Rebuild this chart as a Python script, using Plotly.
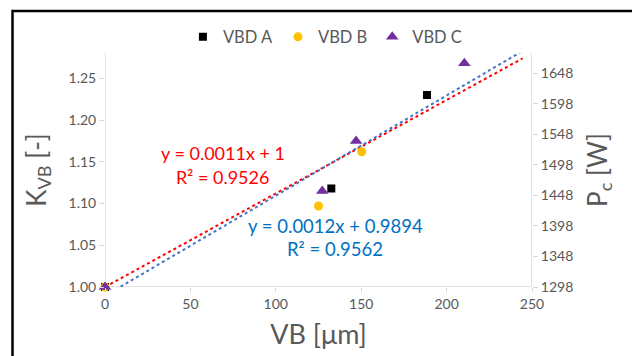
import numpy as np
import plotly.graph_objects as go

# ---- data ----
vbd_a_x = [0, 132.5, 188.5]
vbd_a_y = [1.000, 1.118, 1.230]
vbd_b_x = [0, 125.0, 150.3, 244.5]
vbd_b_y = [1.000, 1.097, 1.162, 1.281]
vbd_c_x = [0, 127.2, 147.0, 210.4]
vbd_c_y = [1.000, 1.115, 1.175, 1.268]

# trendline coefficients (slope, intercept)
trend_red = [0.00112, 1.0]
trend_blue = [0.0012, 0.9894]
trend_red_label = ["y = 0.0011x + 1", "R² = 0.9526"]
trend_blue_label = ["y = 0.0012x + 0.9894", "R² = 0.9562"]

x_ticks = [0, 50, 100, 150, 200, 250]
y_ticks = [1.00, 1.05, 1.10, 1.15, 1.20, 1.25]
y2_ticks = [1298, 1348, 1398, 1448, 1498, 1548, 1598, 1648]

FONT = "Lato"
GREY = "#595959"
AXIS = "#D9D9D9"

all_x = vbd_a_x + vbd_b_x + vbd_c_x
xmin, xmax = min(all_x), max(all_x)
tx = np.linspace(xmin, xmax, 60)

fig = go.Figure()

fig.add_trace(go.Scatter(x=tx, y=trend_red[0] * tx + trend_red[1], mode="lines",
                         line=dict(color="#FF0000", width=2, dash="dot"),
                         showlegend=False, hoverinfo="skip"))
fig.add_trace(go.Scatter(x=tx, y=trend_blue[0] * tx + trend_blue[1], mode="lines",
                         line=dict(color="#4472C4", width=2, dash="dot"),
                         showlegend=False, hoverinfo="skip"))

fig.add_trace(go.Scatter(x=vbd_a_x, y=vbd_a_y, mode="markers", name="VBD A",
                         marker=dict(symbol="square", size=8, color="#000000"),
                         cliponaxis=False))
fig.add_trace(go.Scatter(x=vbd_b_x, y=vbd_b_y, mode="markers", name="VBD B",
                         marker=dict(symbol="circle", size=9, color="#FFC000"),
                         cliponaxis=False))
fig.add_trace(go.Scatter(x=vbd_c_x, y=vbd_c_y, mode="markers", name="VBD C",
                         marker=dict(symbol="triangle-up", size=11, color="#7030A0"),
                         cliponaxis=False))
# secondary axis anchor trace
fig.add_trace(go.Scatter(x=[0], y=[1298], yaxis="y2", mode="markers",
                         marker=dict(size=1, opacity=0), showlegend=False, hoverinfo="skip"))

ann = []
ann.append(dict(x=69, y=1.1605, text=trend_red_label[0], showarrow=False,
                font=dict(family=FONT, size=18, color="#FF0000")))
ann.append(dict(x=69, y=1.1318, text=trend_red_label[1], showarrow=False,
                font=dict(family=FONT, size=18, color="#FF0000")))
ann.append(dict(x=135.2, y=1.073, text=trend_blue_label[0], showarrow=False,
                font=dict(family=FONT, size=18.5, color="#0070C0")))
ann.append(dict(x=134.7, y=1.0455, text=trend_blue_label[1], showarrow=False,
                font=dict(family=FONT, size=18.5, color="#0070C0")))
# cut-off text above the frame
ann.append(dict(xref="paper", yref="paper", x=-0.07, y=1.215, yanchor="bottom",
                text="g p", showarrow=False, font=dict(family=FONT, size=20, color="#000000")))

fig.update_layout(
    width=632, height=356,
    margin=dict(l=105, r=100, t=53, b=69),
    paper_bgcolor="white", plot_bgcolor="white",
    font=dict(family=FONT, color=GREY),
    showlegend=True,
    legend=dict(orientation="h", x=0.515, xanchor="center", y=1.068, yanchor="middle",
                font=dict(family=FONT, size=16.5, color=GREY), itemwidth=30,
                tracegroupgap=0, bgcolor="rgba(0,0,0,0)"),
    xaxis=dict(range=[0, 250], tickvals=x_ticks, ticktext=[str(v) for v in x_ticks],
               showgrid=False, zeroline=False, showline=False,
               ticks="outside", ticklen=4, tickcolor=AXIS,
               tickfont=dict(family=FONT, size=14, color=GREY),
               title=dict(text="VB [μm]", font=dict(family=FONT, size=27, color=GREY), standoff=14)),
    yaxis=dict(range=[1.0, 1.2803], tickvals=y_ticks, ticktext=[f"{v:.2f}" for v in y_ticks],
               showgrid=False, zeroline=False, showline=False,
               ticks="outside", ticklen=5, tickcolor=AXIS,
               tickfont=dict(family=FONT, size=14, color=GREY),
               title=dict(text="K<sub>VB</sub> [-]", font=dict(family=FONT, size=26, color=GREY), standoff=14)),
    yaxis2=dict(range=[1298, 1681.3], tickvals=y2_ticks, ticktext=[str(v) for v in y2_ticks],
                overlaying="y", side="right", showgrid=False, zeroline=False, showline=False,
                ticks="outside", ticklen=5, tickcolor=AXIS,
                tickfont=dict(family=FONT, size=14, color=GREY),
                title=dict(text="P<sub>c</sub> [W]", font=dict(family=FONT, size=26, color=GREY), standoff=16)),
    annotations=ann,
    shapes=[
        # axis lines
        dict(type="line", xref="x", yref="paper", x0=0, x1=0, y0=0, y1=1, line=dict(color=AXIS, width=1.5), layer="below"),
        dict(type="line", xref="x", yref="paper", x0=250, x1=250, y0=0, y1=1, line=dict(color=AXIS, width=1.5), layer="below"),
        dict(type="line", xref="paper", yref="y", x0=0, x1=1, y0=1.0, y1=1.0, line=dict(color=AXIS, width=1.5), layer="below"),
        # outer frame
        dict(type="rect", xref="paper", yref="paper", x0=-0.2166, x1=1.35, y0=-0.6, y1=1.1795,
             line=dict(color="#000000", width=2.5), fillcolor="rgba(0,0,0,0)"),
    ],
)

fig.write_html("out.html")
